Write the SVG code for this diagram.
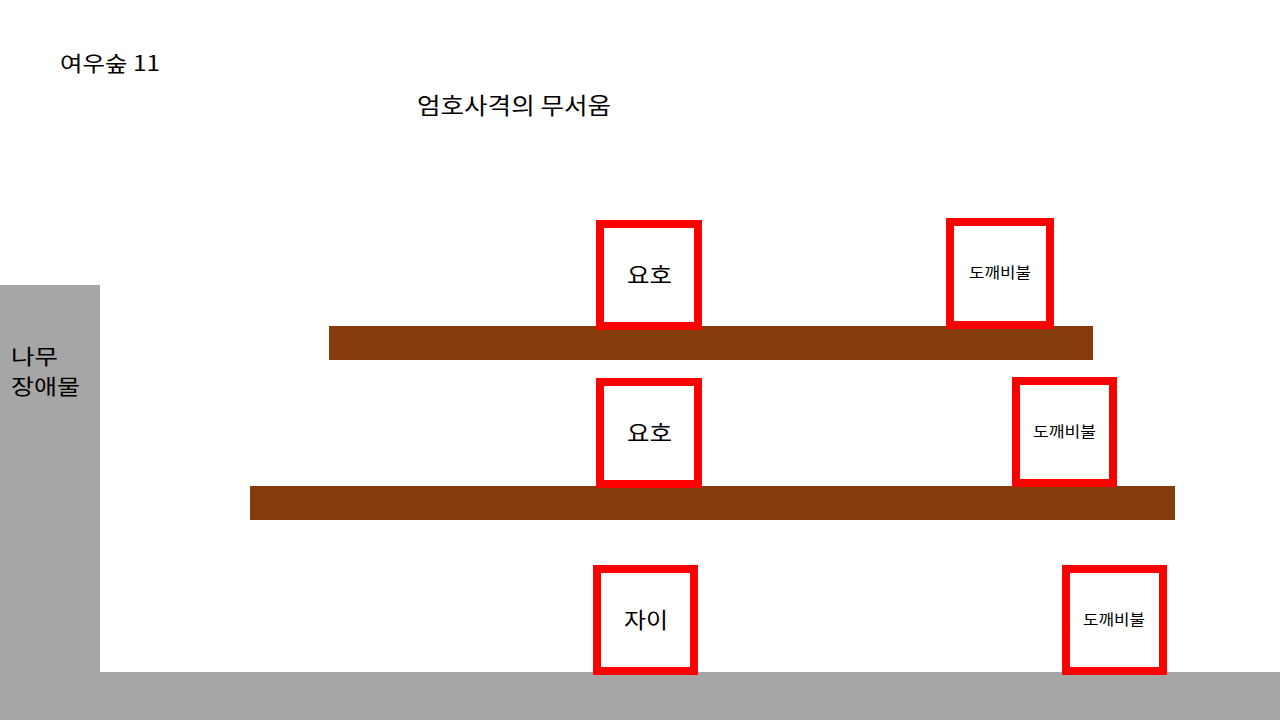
<svg xmlns="http://www.w3.org/2000/svg" width="1280" height="720" viewBox="0 0 1280 720">
<style>
.t{font-family:"Noto Sans CJK KR","Noto Sans",sans-serif;fill:#000}
.box{fill:#fff;stroke:#ff0000;stroke-width:8}
.plat{fill:#843c0c}
.gray{fill:#a6a6a6}
</style>
<rect width="1280" height="720" fill="#fff"/>
<g id="tree"><rect class="gray" x="0" y="285" width="100" height="435"/>
<text class="t" x="11" y="364" font-size="21" textLength="47" lengthAdjust="spacingAndGlyphs">나무</text>
<text class="t" x="11" y="394" font-size="21" textLength="69" lengthAdjust="spacingAndGlyphs">장애물</text></g>
<g id="ground"><rect class="gray" x="100" y="672" width="1180" height="48"/></g>
<g id="platform1"><rect class="plat" x="329" y="326" width="764" height="34"/></g>
<g id="platform2"><rect class="plat" x="250" y="486" width="925" height="34"/></g>
<text class="t" x="60" y="71" font-size="21" textLength="100" lengthAdjust="spacingAndGlyphs">여우숲 11</text>
<text class="t" x="417" y="114" font-size="23" textLength="194" lengthAdjust="spacingAndGlyphs">엄호사격의 무서움</text>
<g id="yoho1"><rect class="box" x="600" y="224" width="98" height="102"/><text class="t" x="627" y="283" font-size="22" textLength="45" lengthAdjust="spacingAndGlyphs">요호</text></g>
<g id="fire1"><rect class="box" x="950" y="222" width="100" height="103"/><text class="t" x="969" y="278" font-size="15" textLength="62" lengthAdjust="spacingAndGlyphs">도깨비불</text></g>
<g id="yoho2"><rect class="box" x="600" y="382" width="98" height="102"/><text class="t" x="627" y="441" font-size="22" textLength="45" lengthAdjust="spacingAndGlyphs">요호</text></g>
<g id="fire2"><rect class="box" x="1016" y="381" width="97" height="102"/><text class="t" x="1033" y="437" font-size="15" textLength="63" lengthAdjust="spacingAndGlyphs">도깨비불</text></g>
<g id="jai"><rect class="box" x="597" y="569" width="97" height="102"/><text class="t" x="624" y="628" font-size="22" textLength="44" lengthAdjust="spacingAndGlyphs">자이</text></g>
<g id="fire3"><rect class="box" x="1066" y="569" width="97" height="102"/><text class="t" x="1083" y="625" font-size="15" textLength="62" lengthAdjust="spacingAndGlyphs">도깨비불</text></g>
<g id="connectors"></g>
</svg>
